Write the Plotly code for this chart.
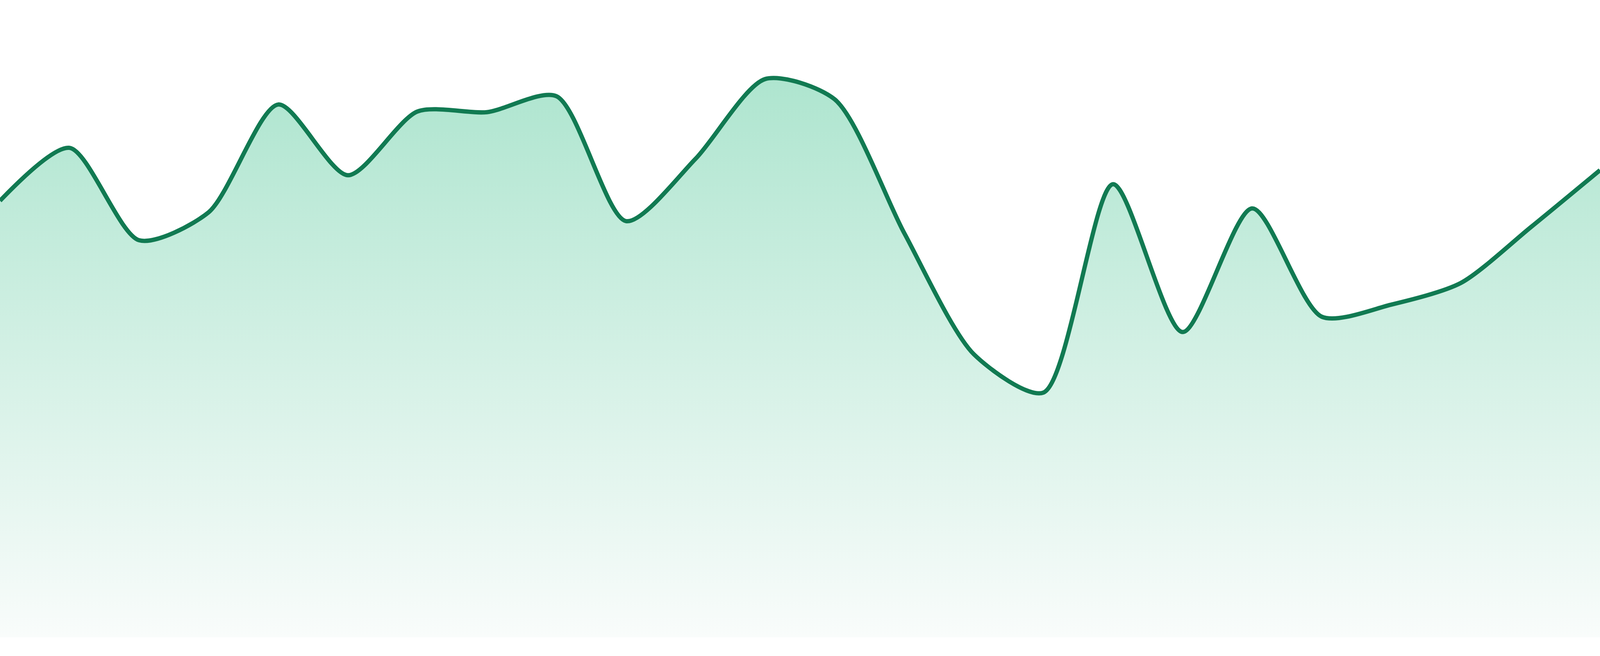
import plotly.graph_objects as go

# DATA - one value per step
steps = list(range(24))
values = [68.5, 76.8, 62.3, 66.7, 83.6, 72.5, 82.5, 82.4, 84.9, 65.3, 75.1, 87.6,
          84.4, 63.4, 44.4, 38.4, 71.1, 47.9, 67.3, 50.3, 52.2, 55.6, 64.3, 73.3]

# colours
line_color = "#117a52"
fill_top = "rgb(174,229,207)"
fill_bottom = "rgb(249,252,251)"

fig = go.Figure()
fig.add_trace(go.Scatter(
    x=steps,
    y=values,
    mode="lines",
    line=dict(color=line_color, width=11, shape="spline", smoothing=0.75),
    fill="tozeroy",
    fillgradient=dict(type="vertical", colorscale=[[0, fill_bottom], [1, fill_top]]),
    hoverinfo="skip",
    showlegend=False,
))

# sparkline: no axes, plot fills the whole page
fig.update_layout(
    autosize=True,
    margin=dict(l=0, r=0, t=0, b=0),
    paper_bgcolor="white",
    plot_bgcolor="white",
    xaxis=dict(visible=False, range=[0, 23], fixedrange=True),
    yaxis=dict(visible=False, range=[-2.94, 100], fixedrange=True),
)

fig.write_html(
    "out.html",
    config={"displayModeBar": False, "responsive": True},
    default_width="100vw",
    default_height="100vh",
    post_script=(
        "document.body.style.margin='0';"
        "document.documentElement.style.overflow='hidden';"
        "Plotly.Plots.resize(document.getElementById('{plot_id}'));"
    ),
)
